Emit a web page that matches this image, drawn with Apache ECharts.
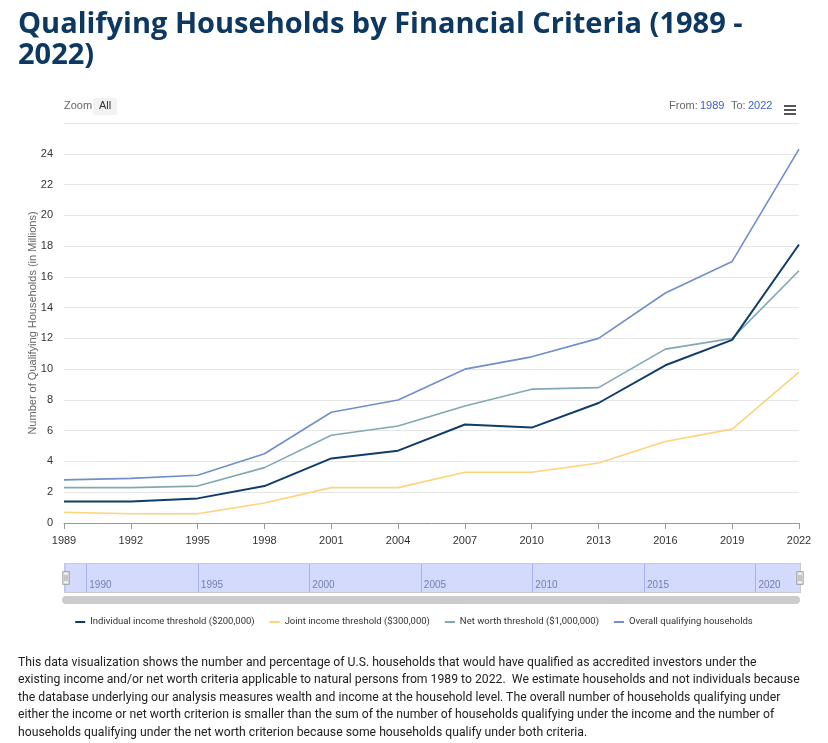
<!DOCTYPE html>
<html>
<head>
<meta charset="utf-8">
<script src="https://cdn.jsdelivr.net/npm/echarts@6/dist/echarts.min.js"></script>
<style>
  html, body { margin:0; padding:0; background:#fff; }
  #wrap { position:relative; width:828px; height:743px; overflow:hidden; }
  #chart { position:absolute; left:0; top:0; width:828px; height:743px; }
  #title { position:absolute; left:18px; top:6px; margin:0; font-family:"Open Sans", sans-serif; font-weight:700; font-size:29px; line-height:31px; color:#0d3862; white-space:nowrap; letter-spacing:0px; }
  #desc { position:absolute; left:18px; top:653px; margin:0; font-family:"Roboto", sans-serif; font-size:13.5px; line-height:17.4px; color:#222; white-space:nowrap; transform:scaleX(0.905); transform-origin:left top; }
</style>
</head>
<body>
<div id="wrap">
  <div id="chart"></div>
  <h1 id="title">Qualifying Households by Financial Criteria (1989 -<br>2022)</h1>
  <p id="desc">This data visualization shows the number and percentage of U.S. households that would have qualified as accredited investors under the<br>existing income and/or net worth criteria applicable to natural persons from 1989 to 2022.&nbsp; We estimate households and not individuals because<br>the database underlying our analysis measures wealth and income at the household level. The overall number of households qualifying under<br>either the income or net worth criterion is smaller than the sum of the number of households qualifying under the income and the number of<br>households qualifying under the net worth criterion because some households qualify under both criteria.</p>
</div>
<script>
const years = ['1989','1992','1995','1998','2001','2004','2007','2010','2013','2016','2019','2022'];
const individualIncome = [1.4, 1.4, 1.6, 2.4, 4.2, 4.7, 6.4, 6.2, 7.8, 10.25, 11.9, 18.1];
const jointIncome      = [0.7, 0.6, 0.6, 1.3, 2.3, 2.3, 3.3, 3.3, 3.9, 5.3, 6.1, 9.8];
const netWorth         = [2.3, 2.3, 2.4, 3.6, 5.7, 6.3, 7.6, 8.7, 8.8, 11.3, 12.0, 16.4];
const overall          = [2.8, 2.9, 3.1, 4.5, 7.2, 8.0, 10.0, 10.8, 12.0, 14.95, 17.0, 24.3];
const seriesNames = ['Individual income threshold ($200,000)', 'Joint income threshold ($300,000)', 'Net worth threshold ($1,000,000)', 'Overall qualifying households'];
const seriesColors = ['#0f3d6b', '#ffd27c', '#80a9b4', '#6f8fcc'];
const yAxisTitle = 'Number of Qualifying Households (in Millions)';

const chart = echarts.init(document.getElementById('chart'));
const font = 'Helvetica, "Liberation Sans", Arial, sans-serif';
const dataSets = [individualIncome, jointIncome, netWorth, overall];

chart.setOption({
  animation: false,
  textStyle: { fontFamily: font },
  legend: {
    bottom: 111, left: 'center',
    icon: 'rect', itemWidth: 10, itemHeight: 2, itemGap: 15,
    textStyle: { fontSize: 9.5, color: '#333', fontFamily: 'Roboto, sans-serif' },
    data: seriesNames
  },
  grid: [
    { left: 64, right: 29, top: 123, bottom: 220, containLabel: false },
    { left: 64, right: 28, top: 563, height: 30, containLabel: false }
  ],
  xAxis: [
    {
      type: 'category', data: years, boundaryGap: false, gridIndex: 0,
      axisLine: { lineStyle: { color: '#999', width: 1 } },
      axisTick: { show: true, alignWithLabel: true, length: 6, lineStyle: { color: '#999' } },
      axisLabel: { color: '#333', fontSize: 11, margin: 12, fontFamily: font },
      splitLine: { show: false }
    },
    {
      type: 'value', gridIndex: 1, min: 1989, max: 2022,
      axisLine: { show: false }, axisTick: { show: false },
      axisLabel: {
        inside: true, align: 'left', margin: 3, padding: [0, 0, 0, 3],
        color: '#7a7f99', fontSize: 10, fontFamily: font,
        showMinLabel: false, showMaxLabel: false,
        formatter: v => (v % 5 === 0 ? String(v) : '')
      },
      splitLine: { show: true, lineStyle: { color: '#c2c6ee', width: 1 } }
    }
  ],
  yAxis: [
    {
      type: 'value', min: 0, max: 26, interval: 2, gridIndex: 0,
      axisLine: { show: false }, axisTick: { show: false },
      axisLabel: { color: '#333', fontSize: 11, margin: 11, fontFamily: font, showMaxLabel: false },
      splitLine: { lineStyle: { color: '#e6e6e6', width: 1 } }
    },
    { type: 'value', gridIndex: 1, show: false, min: 0, max: 1 }
  ],
  dataZoom: [{
    type: 'slider', xAxisIndex: 0, start: 0, end: 100,
    left: 64, right: 28, top: 563, height: 30,
    showDataShadow: false, showDetail: false, brushSelect: false,
    backgroundColor: 'rgba(0,0,0,0)',
    borderColor: '#cccccc',
    fillerColor: 'rgba(102,122,240,0.28)',
    handleIcon: 'path://M0,0 L6,0 L6,12 L0,12 Z M2,3 L2,9 M4,3 L4,9',
    handleSize: '42%',
    handleStyle: { color: '#f2f2f2', borderColor: '#999', borderWidth: 1 },
    moveHandleSize: 0,
    labelFormatter: () => ''
  }],
  graphic: [
    { type: 'text', x: 33, y: 323, rotation: Math.PI / 2, style: { text: yAxisTitle, fill: '#666', fontSize: 11, fontFamily: font, align: 'center', verticalAlign: 'middle' } },
    { type: 'text', left: 64, top: 100, style: { text: 'Zoom', fill: '#666', fontSize: 11, fontFamily: font } },
    { type: 'rect', left: 93, top: 98, shape: { width: 24, height: 17, r: 2 }, style: { fill: '#f2f2f2' } },
    { type: 'text', left: 99, top: 100, style: { text: 'All', fill: '#333', fontSize: 11, fontFamily: font } },
    { type: 'text', left: 669, top: 100, style: { text: 'From:', fill: '#666', fontSize: 11, fontFamily: font } },
    { type: 'text', left: 700, top: 100, style: { text: '1989', fill: '#3a5fcc', fontSize: 11, fontFamily: font } },
    { type: 'text', left: 731, top: 100, style: { text: 'To:', fill: '#666', fontSize: 11, fontFamily: font } },
    { type: 'text', left: 748, top: 100, style: { text: '2022', fill: '#3a5fcc', fontSize: 11, fontFamily: font } },
    { type: 'rect', left: 784, top: 105, shape: { width: 12, height: 2 }, style: { fill: '#555' } },
    { type: 'rect', left: 784, top: 109, shape: { width: 12, height: 2 }, style: { fill: '#555' } },
    { type: 'rect', left: 784, top: 113, shape: { width: 12, height: 2 }, style: { fill: '#555' } },
    { type: 'rect', left: 62, top: 596, shape: { width: 738, height: 8, r: 4 }, style: { fill: '#cccccc' } }
  ],
  series: seriesNames.map((n, i) => ({
    name: n, type: 'line', xAxisIndex: 0, yAxisIndex: 0,
    data: dataSets[i], showSymbol: false, symbol: 'none',
    lineStyle: { color: seriesColors[i], width: i === 0 ? 2 : 1.6 },
    itemStyle: { color: seriesColors[i] },
    z: [4, 2, 3, 1][i]
  }))
});
</script>
</body>
</html>
